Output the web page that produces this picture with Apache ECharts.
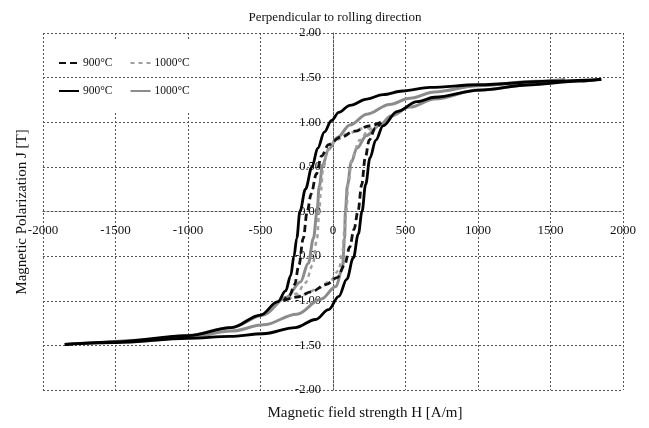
<!DOCTYPE html>
<html><head><meta charset="utf-8">
<script src="https://cdn.jsdelivr.net/npm/echarts@6/dist/echarts.min.js"></script>
<style>html,body{margin:0;padding:0;background:#fff}#c{width:649px;height:428px}</style>
</head><body><div id="c"></div><script>
// Axis ticks
const xTicks = [-2000, -1500, -1000, -500, 0, 500, 1000, 1500, 2000];
const yTicks = [-2, -1.5, -1, -0.5, 0, 0.5, 1, 1.5, 2];

// Legend labels
const seriesLabels = { d900: '900°C', d1000: '1000°C', s900: '900°C', s1000: '1000°C' };

// 900°C solid (major loop) – [H A/m, J T]
const solid900Down = [[1850,1.48],[1500,1.46],[1000,1.42],[670,1.39],[480,1.35],[345,1.31],[234,1.26],[117,1.19],[40,1.11],[-10,1.02],[-60,0.89],[-105,0.71],[-145,0.5],[-190,0.25],[-228,0],[-250,-0.3],[-269,-0.5],[-292,-0.72],[-327,-0.89],[-380,-1.01],[-500,-1.16],[-700,-1.3],[-1000,-1.39],[-1500,-1.46],[-1850,-1.49]];
const solid900Up = [[-1850,-1.49],[-1500,-1.47],[-1000,-1.42],[-710,-1.4],[-483,-1.37],[-260,-1.3],[-120,-1.21],[-30,-1.1],[40,-0.95],[95,-0.76],[140,-0.52],[175,-0.25],[200,0],[225,0.3],[255,0.6],[295,0.8],[345,0.96],[441,1.12],[580,1.23],[700,1.28],[1014,1.36],[1360,1.42],[1700,1.46],[1850,1.48]];

// 1000°C solid (major loop)
const solid1000Down = [[1600,1.48],[1400,1.46],[1000,1.41],[700,1.34],[530,1.27],[390,1.2],[234,1.09],[117,0.97],[30,0.83],[-30,0.7],[-72,0.52],[-95,0.28],[-110,0],[-135,-0.3],[-170,-0.58],[-225,-0.79],[-320,-0.96],[-480,-1.16],[-700,-1.3],[-1000,-1.39],[-1300,-1.44],[-1600,-1.47]];
const solid1000Up = [[-1600,-1.47],[-1300,-1.45],[-1000,-1.41],[-700,-1.34],[-480,-1.27],[-250,-1.15],[-80,-0.98],[20,-0.84],[65,-0.64],[80,-0.3],[85,0],[100,0.3],[125,0.55],[165,0.71],[230,0.85],[324,0.97],[400,1.07],[530,1.17],[700,1.26],[1000,1.36],[1360,1.42],[1600,1.47]];

// 900°C dashed (minor loop)
const dashed900Down = [[330,1.0],[250,0.96],[150,0.9],[50,0.83],[-30,0.75],[-80,0.62],[-115,0.42],[-150,0.2],[-178,0],[-205,-0.3],[-235,-0.6],[-265,-0.82],[-300,-0.94],[-340,-1.0]];
const dashed900Up = [[-340,-1.0],[-250,-0.96],[-150,-0.9],[-50,-0.82],[30,-0.74],[80,-0.6],[115,-0.4],[145,-0.2],[172,0],[198,0.3],[222,0.6],[250,0.8],[290,0.93],[330,1.0]];

// 1000°C dashed (minor loop)
const dashed1000Down = [[310,0.98],[200,0.93],[100,0.87],[20,0.8],[-40,0.68],[-70,0.45],[-85,0.2],[-95,0],[-110,-0.3],[-140,-0.6],[-190,-0.8],[-250,-0.92],[-310,-0.98]];
const dashed1000Up = [[-310,-0.98],[-200,-0.93],[-100,-0.86],[-20,-0.78],[40,-0.66],[65,-0.45],[80,-0.2],[92,0],[105,0.3],[130,0.6],[185,0.8],[250,0.92],[310,0.98]];

const SERIF = 'Liberation Serif';
const chart = echarts.init(document.getElementById('c'));

function branch(name, data, color, width, type, z) {
  return {
    name, type: 'line', data, symbol: 'none', showSymbol: false, smooth: 0.35, smoothMonotone: 'x',
    lineStyle: { color, width, type }, itemStyle: { color }, z, animation: false
  };
}

const gridLine = { color: '#555', type: [2, 2], width: 1 };
const GRID = { left: 43, right: 26, top: 33, bottom: 38 };
const plotW = 649 - GRID.left - GRID.right;
const plotH = 428 - GRID.top - GRID.bottom;

function legendCfg(names, top, padding) {
  return {
    data: names.map(n => ({ name: n, itemStyle: { opacity: 0 } })),
    left: 45, top, orient: 'horizontal', padding, itemGap: 17, itemWidth: 20, itemHeight: 10,
    backgroundColor: '#fff', formatter: n => seriesLabels[n],
    textStyle: { fontFamily: SERIF, fontSize: 11.5, color: '#111', padding: [0, 0, 0, -1] }
  };
}

chart.setOption({
  animation: false,
  backgroundColor: '#fff',
  title: {
    text: 'Perpendicular to rolling direction', left: 330, top: 6, textAlign: 'center',
    textStyle: { fontFamily: SERIF, fontSize: 13, fontWeight: 'normal', color: '#111' }
  },
  grid: GRID,
  legend: [
    legendCfg(['d900', 'd1000'], 40, [17, 4, 8, 13]),
    legendCfg(['s900', 's1000'], 78, [7, 4, 16, 13])
  ],
  xAxis: {
    type: 'value', min: xTicks[0], max: xTicks[xTicks.length - 1], interval: 500,
    offset: -plotH / 2,
    axisLine: { onZero: false, lineStyle: gridLine },
    axisTick: { show: false },
    axisLabel: { fontFamily: SERIF, fontSize: 13, color: '#111', margin: 13, showMinLabel: true, showMaxLabel: true, formatter: v => String(v) },
    splitLine: { show: true, lineStyle: gridLine }
  },
  yAxis: {
    type: 'value', min: yTicks[0], max: yTicks[yTicks.length - 1], interval: 0.5,
    offset: -plotW / 2,
    axisLine: { onZero: false, lineStyle: gridLine },
    axisTick: { show: false },
    axisLabel: { fontFamily: SERIF, fontSize: 12.5, color: '#111', margin: 12, formatter: v => v.toFixed(2) },
    splitLine: { show: true, lineStyle: gridLine }
  },
  graphic: [
    { type: 'text', x: 365, y: 413, style: { text: 'Magnetic field strength H [A/m]', font: '15px "Liberation Serif"', fill: '#111', align: 'center', verticalAlign: 'middle' } },
    { type: 'text', x: 22, y: 212, rotation: Math.PI / 2, style: { text: 'Magnetic Polarization J [T]', font: '15px "Liberation Serif"', fill: '#111', align: 'center', verticalAlign: 'middle' } }
  ],
  series: [
    branch('s1000', solid1000Down, '#8c8c8c', 3, 'solid', 2),
    branch('s1000', solid1000Up, '#8c8c8c', 3, 'solid', 2),
    branch('d1000', dashed1000Down, '#a0a0a0', 2.5, [4, 4], 3),
    branch('d1000', dashed1000Up, '#a0a0a0', 2.5, [4, 4], 3),
    branch('d900', dashed900Down, '#111', 2.8, [7, 4], 4),
    branch('d900', dashed900Up, '#111', 2.8, [7, 4], 4),
    branch('s900', solid900Down, '#000', 2.8, 'solid', 5),
    branch('s900', solid900Up, '#000', 2.8, 'solid', 5)
  ]
});
</script></body></html>
